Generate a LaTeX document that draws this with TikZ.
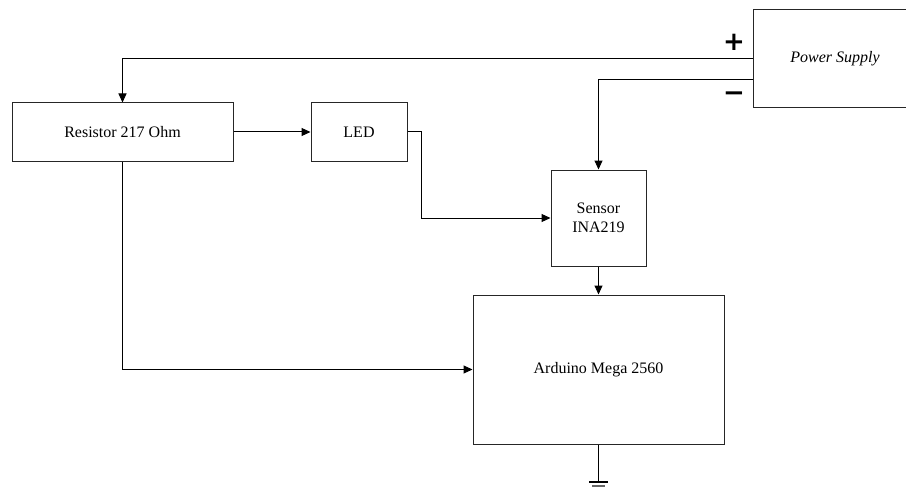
\documentclass[tikz,border=0pt]{standalone}
\usepackage{fontspec}
\setmainfont{Liberation Serif}
\newfontfamily\signfont{DejaVu Sans}
\usetikzlibrary{arrows.meta}
\begin{document}
\begin{tikzpicture}[x=1pt,y=-1pt,
  blk/.style={draw=black!85,line width=1pt,fill=white,inner sep=0pt,
    font=\fontsize{16}{19}\selectfont,align=center},
  wire/.style={line width=1pt,-{Triangle[length=9pt,width=8pt]}},
  plain/.style={line width=1pt},
  sign/.style={font=\signfont\bfseries\fontsize{26}{26}\selectfont,inner sep=0pt}]
\useasboundingbox (0,0) rectangle (906,487);
\node[blk,minimum width=221pt,minimum height=58pt] (res) at (122.5,132) {Resistor 217 Ohm};
\node[blk,minimum width=96pt,minimum height=58pt] (led) at (359,132) {LED};
\node[blk,minimum width=95pt,minimum height=96pt] (sen) at (598.5,218) {Sensor\\INA219};
\node[blk,minimum width=251pt,minimum height=149pt] (ard) at (598.5,369.5) {Arduino Mega 2560};
\node[blk,minimum width=164pt,minimum height=98pt,font=\itshape\fontsize{16}{19}\selectfont] (ps) at (835,59) {Power Supply};
\node[sign] (plus) at (734,42) {+};
\node[sign] (minus) at (734,97) {−};
\coordinate (pp) at (753,59);
\coordinate (pm) at (753,80);
\draw[wire] (pp) -| (res.north);
\draw[wire] (pm) -| (sen.north);
\draw[wire] (res.east) -- (led.west);
\draw[wire] (led.east) -- (421,132) |- (sen.west);
\draw[wire] (sen.south) -- (ard.north);
\draw[wire] (res.south) |- (ard.west);
\coordinate (g) at (598.5,482);
\draw[plain] (ard.south) -- (g);
\draw[line width=1.2pt] (589,482) -- (608,482);
\draw[line width=1.2pt,black!60] (592,486) -- (605,486);
\end{tikzpicture}
\end{document}
